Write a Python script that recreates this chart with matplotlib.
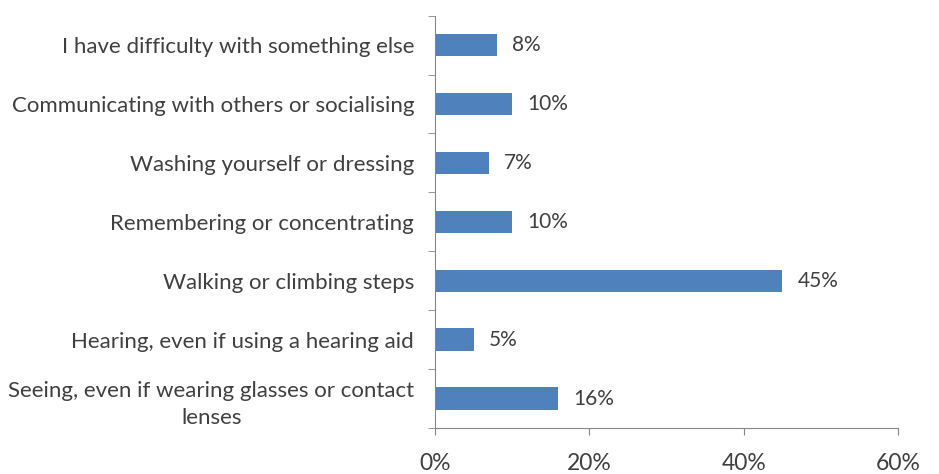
import matplotlib.pyplot as plt
import numpy as np
from matplotlib.ticker import FixedLocator, PercentFormatter

categories = [
    'I have difficulty with something else',
    'Communicating with others or socialising',
    'Washing yourself or dressing',
    'Remembering or concentrating',
    'Walking or climbing steps',
    'Hearing, even if using a hearing aid',
    'Seeing, even if wearing glasses or contact\nlenses',
]
values = [8, 10, 7, 10, 45, 5, 16]

bar_color = '#4F81BD'
axis_color = '#868686'
text_color = '#404040'

plt.rcParams['font.family'] = ['Lato', 'DejaVu Sans']

fig = plt.figure(figsize=(9.39, 4.74), dpi=100)
ax = fig.add_axes([0.4633, 0.097, 0.493, 0.870])

y = np.arange(len(categories))
ax.barh(y, values, height=0.38, color=bar_color)

for yi, v in zip(y, values):
    ax.annotate(f'{v}%', (v, yi), xytext=(11, 0), textcoords='offset points',
                va='center', ha='left', fontsize=15, color=text_color)

ax.set_xlim(0, 60)
ax.set_ylim(len(categories) - 0.5, -0.5)
ax.xaxis.set_major_locator(FixedLocator([0, 20, 40, 60]))
ax.xaxis.set_major_formatter(PercentFormatter(decimals=0))

ax.set_yticks(y)
ax.set_yticklabels(categories, fontsize=16, color=text_color,
                   multialignment='center', linespacing=1.45)
ax.yaxis.set_minor_locator(FixedLocator(np.arange(len(categories) + 1) - 0.5))
ax.tick_params(axis='y', which='major', length=0, pad=15)
ax.tick_params(axis='y', which='minor', length=5, color=axis_color, direction='out')
ax.tick_params(axis='x', length=5, color=axis_color, direction='out', pad=13,
               labelsize=16.5, labelcolor=text_color)

for side in ['top', 'right']:
    ax.spines[side].set_visible(False)
for side in ['left', 'bottom']:
    ax.spines[side].set_color(axis_color)

fig.savefig('out.png', dpi=100)
